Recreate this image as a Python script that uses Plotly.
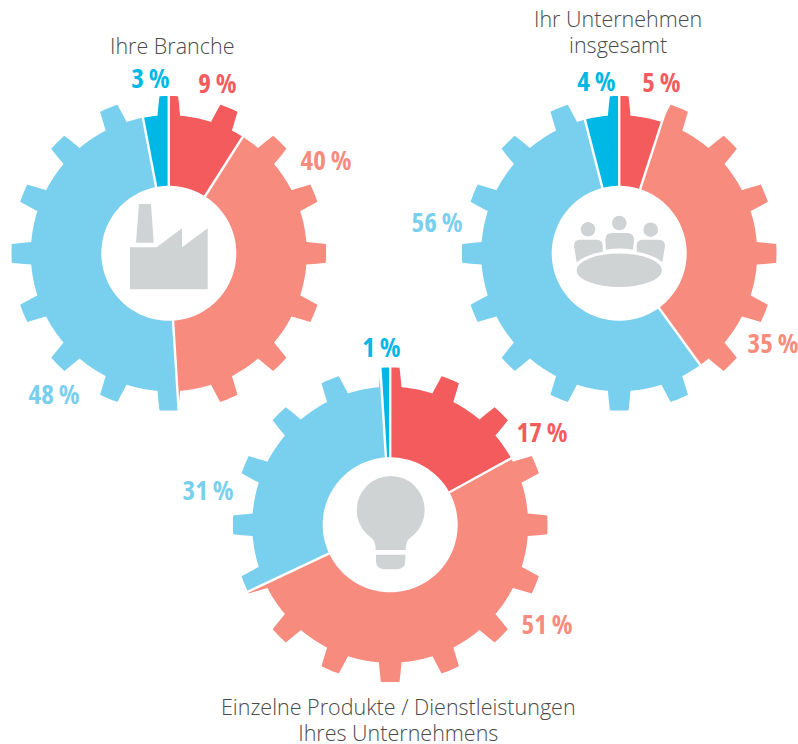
import re
import numpy as np
import plotly.graph_objects as go

W, H = 798, 744

# ---- data ----
segment_names = ["Rot", "Lachs", "Hellblau", "Cyan"]
branche_values = [9, 40, 48, 3]
unternehmen_values = [5, 35, 56, 4]
produkte_values = [17, 51, 31, 1]
colors = ["#F45B5D", "#F78B7E", "#79D0EE", "#00B8E6"]

# ---- geometry ----
R_MAX, R_TIP, R_BODY, R_IN = 160.0, 157.3, 138.0, 67.5
N_TEETH = 16
BASE_HALF, TIP_HALF = 4.7, 3.4


def profile():
    th, r = [], []
    step = 360 / N_TEETH
    for i in range(N_TEETH + 1):
        c = i * step
        th += [c - BASE_HALF, c - TIP_HALF, c + TIP_HALF, c + BASE_HALF]
        r += [R_BODY, R_TIP, R_TIP, R_BODY]
    return np.array(th), np.array(r)


P_T, P_R = profile()


def slice_outline(a, b):
    dense = np.arange(np.ceil(a), b, 1.0)
    inner = P_T[(P_T > a) & (P_T < b)]
    t = np.unique(np.concatenate([[a, b], dense, inner]))
    r = np.interp(t, P_T, P_R)
    ti = np.linspace(a, b, 60)
    return (list(t) + list(ti[::-1]) + [t[0]],
            list(r) + [R_IN] * 60 + [r[0]])


def polar_cfg(cx, cy):
    return dict(
        domain=dict(x=[(cx - R_MAX) / W, (cx + R_MAX) / W],
                    y=[1 - (cy + R_MAX) / H, 1 - (cy - R_MAX) / H]),
        bgcolor="rgba(0,0,0,0)",
        radialaxis=dict(visible=False, range=[0, R_MAX]),
        angularaxis=dict(visible=False, direction="clockwise", rotation=90),
    )


def add_gear(fig, values, subplot):
    edges = np.cumsum([0] + values) / sum(values) * 360
    for i, v in enumerate(values):
        th, r = slice_outline(edges[i], edges[i + 1])
        fig.add_trace(go.Scatterpolar(
            theta=th, r=r, mode="lines", fill="toself", fillcolor=colors[i],
            line=dict(width=0, color=colors[i]), subplot=subplot,
            name=f"{segment_names[i]} {v} %", hoverinfo="name", showlegend=False))
    for e in edges[:-1]:
        fig.add_trace(go.Scatterpolar(
            theta=[e, e], r=[R_IN - 2, R_MAX - 1], mode="lines",
            line=dict(width=2.4, color="white"), subplot=subplot,
            hoverinfo="skip", showlegend=False))


fig = go.Figure()
add_gear(fig, branche_values, "polar")
add_gear(fig, unternehmen_values, "polar2")
add_gear(fig, produkte_values, "polar3")

# ---- icons ----
GRAY = "#D0D3D4"


def px_path(s):
    nums = iter(range(10**6))

    def rep(m):
        v = float(m.group(0))
        return f"{v / W:.5f}" if next(nums) % 2 == 0 else f"{1 - v / H:.5f}"

    return re.sub(r"-?\d+\.?\d*", rep, s)


icon_paths = [
    # factory
    "M139,204 L151,204 L153.7,242.7 L136,242.7 Z",
    "M130,247.3 L156.7,247.3 L182,228.3 L182,247.3 L207.7,228.3 L207.7,289.3 L130,289.3 Z",
    # people
    "M605.3,240 Q605.3,233 612,233 L627.3,233 Q634,233 634,240 L633,249.7 Q619.5,247.3 606,249.7 Z",
    "M574,246 Q574,239.7 580,239.7 L596.7,239.7 Q602.7,239.7 602.7,246 L602.7,251.7 Q586,254.5 576.7,262.3 Z",
    "M636.7,246 Q636.7,239.7 642.7,239.7 L659,239.7 Q665,239.7 665,246 L662.3,262.3 Q653,254.5 636.7,251.7 Z",
    # bulb neck + base
    "M371,537.5 Q375.7,541 375.7,550 L405.7,550 Q405.7,541 410.4,537.5 L390.7,510 Z",
    "M376,554.7 L405.3,554.7 L405.3,561 Q405.3,569.3 396,569.3 L385,569.3 Q376,569.3 376,561 Z",
]
shapes = [dict(type="path", xref="paper", yref="paper", path=px_path(p),
               fillcolor=GRAY, line=dict(width=0)) for p in icon_paths]
icon_ellipses = [(588, 229.3, 7.3, 7.3), (619.3, 223, 7.3, 7.3), (650.7, 229.7, 7.3, 7.3),
                 (619.3, 270.3, 42.7, 16.7), (390.7, 510, 34, 34)]
for x, y, rx, ry in icon_ellipses:
    shapes.append(dict(type="circle", xref="paper", yref="paper",
                       x0=(x - rx) / W, x1=(x + rx) / W,
                       y0=1 - (y + ry) / H, y1=1 - (y - ry) / H,
                       fillcolor=GRAY, line=dict(width=0)))

# ---- texts ----
pct_labels = [
    ("9 %", 217.5, 82, 0), ("40 %", 326, 159, 1), ("48 %", 54, 393, 2), ("3 %", 150, 77.5, 3),
    ("5 %", 661, 81, 0), ("35 %", 772.5, 342, 1), ("56 %", 437, 221, 2), ("4 %", 596, 80, 3),
    ("17 %", 542, 431, 0), ("51 %", 547, 623, 1), ("31 %", 208, 489, 2), ("1 %", 381, 347, 3),
]
titles = [("Ihre Branche", 172, 45), ("Ihr Unternehmen<br>insgesamt", 618, 33),
          ("Einzelne Produkte / Dienstleistungen<br>Ihres Unternehmens", 398, 720)]

annotations = []
for txt, x, y, c in pct_labels:
    annotations.append(dict(text=txt, x=x / W, y=1 - y / H, xref="paper", yref="paper",
                            xanchor="center", yanchor="middle", showarrow=False,
                            font=dict(family="Open Sans", size=27,
                                      color=colors[c], weight=700)))
for txt, x, y in titles:
    annotations.append(dict(text=txt, x=x / W, y=1 - y / H, xref="paper", yref="paper",
                            xanchor="center", yanchor="middle", showarrow=False, align="center",
                            font=dict(family="Open Sans", size=21.5, color="#4A4A4A", weight=300)))

fig.update_layout(
    width=W, height=H, autosize=False,
    margin=dict(l=0, r=0, t=0, b=0),
    paper_bgcolor="white", plot_bgcolor="white",
    polar=polar_cfg(168.8, 253.3),
    polar2=polar_cfg(619.2, 253.3),
    polar3=polar_cfg(390.2, 524.8),
    shapes=shapes, annotations=annotations, showlegend=False,
)

fig.write_html("out.html", config=dict(displayModeBar=False),
               post_script="document.body.style.margin='0';document.body.style.overflow='hidden';"
               "document.querySelectorAll('.annotation-text').forEach(function(t){"
               "if(t.textContent.indexOf('%')>=0){t.style.fontStretch='75%';}"
               "t.querySelectorAll('tspan.line').forEach(function(s){"
               "var d=parseFloat(s.getAttribute('dy'));if(d>0){s.setAttribute('dy','1.2em');}});});")
